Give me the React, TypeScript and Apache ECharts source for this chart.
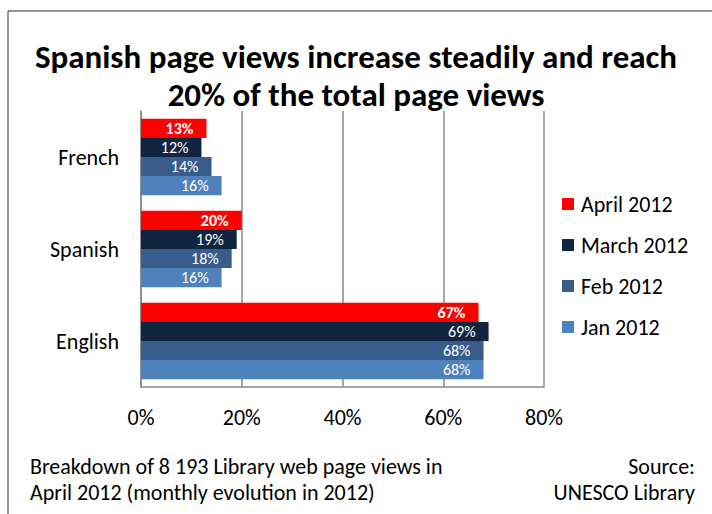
import React, { useEffect, useRef } from "react";
import * as echarts from "echarts";

const categories = ["English", "Spanish", "French"];
const seriesNames = ["April 2012", "March 2012", "Feb 2012", "Jan 2012"];
const apr = [67, 20, 13];
const mar = [69, 19, 12];
const feb = [68, 18, 14];
const jan = [68, 16, 16];
const colors = ["#FF0000", "#10253F", "#385D8A", "#4F81BD"];

const FONT = "Carlito, Lato, 'Open Sans', sans-serif";

export default function App() {
  const ref = useRef<HTMLDivElement>(null);
  useEffect(() => {
    const chart = echarts.init(ref.current!, null, { renderer: "svg" });
    const values = [apr, mar, feb, jan];
    chart.setOption({
      animation: false,
      textStyle: { fontFamily: FONT },
      title: {
        text: "Spanish page views increase steadily and reach\n20% of the total page views",
        left: "center",
        top: 33,
        textStyle: { fontSize: 33, fontWeight: "bold", color: "#000", lineHeight: 38, fontFamily: FONT },
      },
      legend: {
        orient: "vertical",
        left: 557,
        top: 188,
        itemWidth: 12,
        itemHeight: 12,
        itemGap: 19,
        icon: "rect",
        data: seriesNames,
        textStyle: { fontSize: 22, color: "#000", lineHeight: 22, fontFamily: FONT, padding: [0, 0, 0, 2] },
      },
      grid: { left: 141, right: 168, top: 111, bottom: 127, containLabel: false },
      xAxis: {
        type: "value",
        min: 0,
        max: 80,
        interval: 20,
        axisLine: { show: true, lineStyle: { color: "#888", width: 1.5 } },
        axisTick: { show: false },
        splitLine: { show: true, lineStyle: { color: "#888", width: 1.5 } },
        axisLabel: { formatter: "{value}%", fontSize: 22, color: "#000", margin: 19, fontFamily: FONT },
      },
      yAxis: {
        type: "category",
        data: categories,
        axisLine: { show: true, lineStyle: { color: "#888", width: 1.5 } },
        axisTick: { show: false },
        axisLabel: { fontSize: 22, color: "#000", margin: 22, fontFamily: FONT },
      },
      series: seriesNames.map((name, i) => ({
        name,
        type: "bar",
        data: values[i],
        barGap: "0%",
        barCategoryGap: "17%",
        itemStyle: { color: colors[i] },
        label: {
          show: true,
          position: "insideRight",
          distance: 13,
          formatter: "{c}%",
          color: "#fff",
          fontSize: 16,
          lineHeight: 16,
          fontWeight: i === 0 ? "bold" : "normal",
          fontFamily: FONT,
        },
      })),
      graphic: [
        {
          type: "rect",
          shape: { x: 8, y: 11, width: 740, height: 540 },
          style: { fill: "none", stroke: "#333", lineWidth: 1 },
          silent: true,
        },
        {
          type: "text",
          left: 30,
          top: 453,
          style: {
            text: "Breakdown of 8 193 Library web page views in\nApril 2012 (monthly evolution in 2012)",
            fontSize: 22,
            lineHeight: 26,
            fill: "#000",
            fontFamily: FONT,
          },
        },
        {
          type: "text",
          x: 695,
          y: 466,
          style: {
            text: "Source:",
            fontSize: 22,
            fill: "#000",
            align: "right",
            verticalAlign: "middle",
            fontFamily: FONT,
          },
        },
        {
          type: "text",
          x: 695,
          y: 492,
          style: {
            text: "UNESCO Library",
            fontSize: 22,
            fill: "#000",
            align: "right",
            verticalAlign: "middle",
            fontFamily: FONT,
          },
        },
      ],
    });
    return () => chart.dispose();
  }, []);
  return (
    <div
      ref={ref}
      style={{ position: "fixed", left: 0, top: 0, width: 712, height: 514, background: "#fff" }}
    />
  );
}
